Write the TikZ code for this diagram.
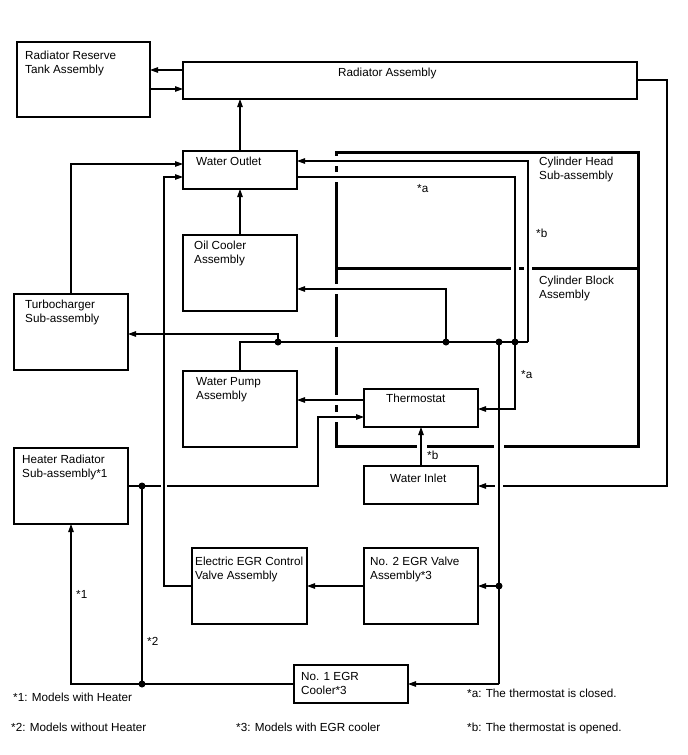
\documentclass[tikz,border=0pt]{standalone}
\usepackage{fontspec}
\setmainfont{Liberation Sans}
\usetikzlibrary{arrows.meta}
\begin{document}
\begin{tikzpicture}[x=1pt,y=-1pt,
  box/.style={draw, line width=1.1pt, anchor=north west, inner sep=0pt, outer sep=0pt},
  thickbox/.style={draw, line width=3pt, anchor=north west, inner sep=0pt, outer sep=0pt},
  lbl/.style={anchor=base west, inner sep=0pt, font=\fontsize{11.7}{14}\selectfont},
  ln/.style={line width=1.1pt},
  arr/.style={ln, -{Triangle[length=8pt,width=5.5pt]}},
  jdot/.style={circle, fill=black, inner sep=0pt, minimum size=7pt},
  gapv/.style={fill=white},
]
\useasboundingbox[fill=white] (0,0) rectangle (688,755);

% ---------- boxes ----------
\node[box, minimum width=133pt, minimum height=75pt] (res) at (17,42) {};
\node[box, minimum width=454pt, minimum height=37pt] (rad) at (183,62) {};
\node[box, minimum width=114pt, minimum height=38pt] (wo) at (183,151) {};
\node[box, minimum width=114pt, minimum height=76pt] (oc) at (183,235) {};
\node[box, minimum width=114pt, minimum height=76pt] (turbo) at (14,294) {};
\node[box, minimum width=114pt, minimum height=76pt] (wp) at (183,371) {};
\node[box, minimum width=114pt, minimum height=38pt] (th) at (364,389) {};
\node[box, minimum width=114pt, minimum height=76pt] (heat) at (14,448) {};
\node[box, minimum width=114pt, minimum height=38pt] (wi) at (364,466) {};
\node[box, minimum width=115pt, minimum height=76pt] (egrc) at (192,548) {};
\node[box, minimum width=114pt, minimum height=76pt] (egr2) at (364,548) {};
\node[box, minimum width=114pt, minimum height=38pt] (egr1) at (294,665) {};
\node[thickbox, minimum width=302pt, minimum height=116pt] (cylh) at (336,152) {};
\node[thickbox, minimum width=302pt, minimum height=178pt] (cylb) at (336,268) {};

% ---------- gaps in thick outline where pipes cross ----------
\foreach \yy in {161,177,289,342,400,417}
  \fill[gapv] (332,\yy-5) rectangle (340,\yy+5);
\foreach \xx in {515,528}
  \fill[gapv] (\xx-3.8,264) rectangle (\xx+3.8,272);
\foreach \xx in {422,499}
  \fill[gapv] (\xx-5,442) rectangle (\xx+5,450);

% ---------- junction coordinates ----------
\coordinate (jt) at (278,342);
\coordinate (jo) at (446,342);
\coordinate (je) at (499,342);
\coordinate (jb) at (515,342);
\coordinate (jend) at (528,342);
\coordinate (je2) at (499,586);
\coordinate (je1) at (499,684);
\coordinate (jh) at (142,486);
\coordinate (jh2) at (142,684);

% ---------- connectors ----------
\draw[arr] (rad.west |- 0,70) -- (res.east |- 0,70);
\draw[arr] (res.east |- 0,89) -- (rad.west |- 0,89);
\draw[arr] (wo.north) -- (rad.south -| wo.north);
\draw[arr] (oc.north) -- (wo.south);

% radiator -> water inlet
\draw[arr] (rad.east |- 0,80) -- (667,80) -- (667,486) -- (wi.east |- 0,486);
\fill[white] (495,482) rectangle (503,490);

% heater -> thermostat
\draw[arr] (heat.east |- 0,486) -- (318,486) -- (318,417) -- (th.west |- 0,417);
\fill[white] (161,482) rectangle (167,490);

% turbo -> water outlet
\draw[arr] (turbo.north) |- (wo.west |- 0,164);
% EGR control -> water outlet
\draw[arr] (egrc.west |- 0,586) -- (164,586) -- (164,177) -- (wo.west |- 0,177);

% main line from water pump
\draw[ln] (wp.north) -- (240,342) -- (jend);
\draw[arr] (jend) -- (528,161) -- (wo.east |- 0,161);
\draw[arr] (wo.east |- 0,177) -- (515,177) -- (515,409) -- (th.east |- 0,409);
\draw[arr] (jt) -- (278,334) -- (turbo.east |- 0,334);
\draw[arr] (jo) -- (446,289) -- (oc.east |- 0,289);

% EGR branch
\draw[ln] (je) -- (je1);
\draw[arr] (je2) -- (egr2.east |- je2);
\draw[arr] (je1) -- (egr1.east |- je1);
\draw[arr] (egr2.west |- 0,586) -- (egrc.east |- 0,586);

% thermostat -> water pump
\draw[arr] (th.west |- 0,400) -- (wp.east |- 0,400);
% water inlet -> thermostat
\draw[arr] (wi.north) -- (th.south);

% EGR cooler -> heater / bypass
\draw[arr] (egr1.west |- jh2) -- (71,684) -- (heat.south);
\draw[ln] (jh) -- (jh2);

% dots
\foreach \c in {jt,jo,je,jb,je2,jh,jh2}
  \node[jdot] at (\c) {};

% ---------- texts ----------
\node[lbl] (t1) at (25,59) {Radiator Reserve};
\node[lbl] (t2) at (25,73) {Tank Assembly};
\node[lbl] (t3) at (338,76) {Radiator Assembly};
\node[lbl] (t4) at (196,165) {Water Outlet};
\node[lbl] (t5) at (194,249) {Oil Cooler};
\node[lbl] (t6) at (194,263) {Assembly};
\node[lbl] (t7) at (539,165) {Cylinder Head};
\node[lbl] (t8) at (539,179) {Sub-assembly};
\node[lbl] (t9) at (539,284) {Cylinder Block};
\node[lbl] (t10) at (539,298) {Assembly};
\node[lbl] (t11) at (417,192) {*a};
\node[lbl] (t12) at (536,237) {*b};
\node[lbl] (t13) at (25,308) {Turbocharger};
\node[lbl] (t14) at (25,322) {Sub-assembly};
\node[lbl] (t15) at (196,385) {Water Pump};
\node[lbl] (t16) at (196,399) {Assembly};
\node[lbl] (t17) at (521,378) {*a};
\node[lbl] (t18) at (386,402) {Thermostat};
\node[lbl] (t19) at (22,463) {Heater Radiator};
\node[lbl] (t20) at (22,477) {Sub-assembly*1};
\node[lbl] (t21) at (427,459) {*b};
\node[lbl] (t22) at (390,482) {Water Inlet};
\node[lbl] (t23) at (195,565) {Electric EGR Control};
\node[lbl] (t24) at (195,579) {Valve Assembly};
\node[lbl] (t25) at (370,565) {No. 2 EGR Valve};
\node[lbl] (t26) at (370,579) {Assembly*3};
\node[lbl] (t27) at (76,598) {*1};
\node[lbl] (t28) at (147,645) {*2};
\node[lbl] (t29) at (301,680) {No. 1 EGR};
\node[lbl] (t30) at (301,694) {Cooler*3};
\node[lbl] (t31) at (13,701) {*1: Models with Heater};
\node[lbl] (t32) at (11,731) {*2: Models without Heater};
\node[lbl] (t33) at (236,731) {*3: Models with EGR cooler};
\node[lbl] (t34) at (467,697) {*a: The thermostat is closed.};
\node[lbl] (t35) at (467,731) {*b: The thermostat is opened.};
\end{tikzpicture}
\end{document}
